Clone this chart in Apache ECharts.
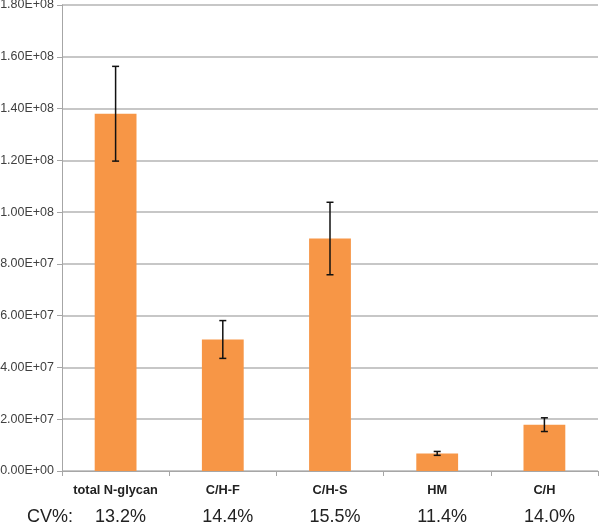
<!DOCTYPE html>
<html>
<head>
<meta charset="utf-8">
<script src="https://cdn.jsdelivr.net/npm/echarts@6/dist/echarts.min.js"></script>
<style>html,body{margin:0;padding:0;background:#fff}#c{width:600px;height:526px}</style>
</head>
<body>
<div id="c"></div>
<script>
var categories = ['total N-glycan', 'C/H-F', 'C/H-S', 'HM', 'C/H'];
var means = [1.38e8, 5.08e7, 8.98e7, 6.8e6, 1.79e7];
var errors = [1.83e7, 7.3e6, 1.4e7, 7.5e5, 2.65e6];
var cvLabels = ['13.2%', '14.4%', '15.5%', '11.4%', '14.0%'];
var cvTitle = 'CV%:';
var yTicks = { min: 0, max: 1.8e8, interval: 2e7 };

function sci(v) {
  if (v === 0) return '0.00E+00';
  var e = Math.floor(Math.log10(Math.abs(v)) + 1e-9);
  var m = v / Math.pow(10, e);
  return m.toFixed(2) + 'E+' + (e < 10 ? '0' + e : e);
}

var chart = echarts.init(document.getElementById('c'), null, { renderer: 'canvas' });
var errData = means.map(function (m, i) { return [i, m - errors[i], m + errors[i]]; });

chart.setOption({
  animation: false,
  backgroundColor: '#fff',
  grid: { left: 62, right: 2, top: 5, bottom: 55, containLabel: false, outerBoundsMode: 'none' },
  xAxis: [{
    type: 'category',
    data: categories,
    axisLine: { lineStyle: { color: '#a6a6a6', width: 1 } },
    axisTick: { show: true, length: 5, lineStyle: { color: '#a6a6a6' } },
    axisLabel: { interval: 0, hideOverlap: false, margin: 13, fontFamily: 'Liberation Sans', fontWeight: 'bold', fontSize: 12.8, color: '#222' }
  }, {
    type: 'category',
    position: 'bottom',
    data: cvLabels,
    axisLine: { show: false },
    axisTick: { show: false },
    axisLabel: { interval: 0, hideOverlap: false, margin: 37, fontFamily: 'Liberation Sans', fontSize: 18, color: '#222', padding: [0, 0, 0, 10] }
  }],
  yAxis: {
    type: 'value',
    min: yTicks.min, max: yTicks.max, interval: yTicks.interval,
    axisLine: { show: true, lineStyle: { color: '#a6a6a6' } },
    axisTick: { show: true, length: 5, lineStyle: { color: '#a6a6a6' } },
    splitLine: { lineStyle: { color: '#b5b5b5', width: 1.5 } },
    axisLabel: { margin: 8, fontFamily: 'Liberation Sans', fontSize: 12.5, color: '#404040', formatter: sci }
  },
  graphic: [{
    type: 'text', left: 27, top: 508,
    style: { text: cvTitle, font: '18px "Liberation Sans"', fill: '#222' }
  }],
  series: [{
    type: 'bar',
    data: means,
    barWidth: '39%',
    itemStyle: { color: '#F79646' }
  }, {
    type: 'custom',
    data: errData,
    z: 10,
    renderItem: function (params, api) {
      var x = api.value(0);
      var lo = api.coord([x, api.value(1)]);
      var hi = api.coord([x, api.value(2)]);
      var w = 3.5;
      var st = { stroke: '#111', lineWidth: 1.5 };
      return {
        type: 'group',
        children: [
          { type: 'line', shape: { x1: lo[0], y1: lo[1], x2: hi[0], y2: hi[1] }, style: st },
          { type: 'line', shape: { x1: lo[0] - w, y1: lo[1], x2: lo[0] + w, y2: lo[1] }, style: st },
          { type: 'line', shape: { x1: hi[0] - w, y1: hi[1], x2: hi[0] + w, y2: hi[1] }, style: st }
        ]
      };
    }
  }]
});
</script>
</body>
</html>
